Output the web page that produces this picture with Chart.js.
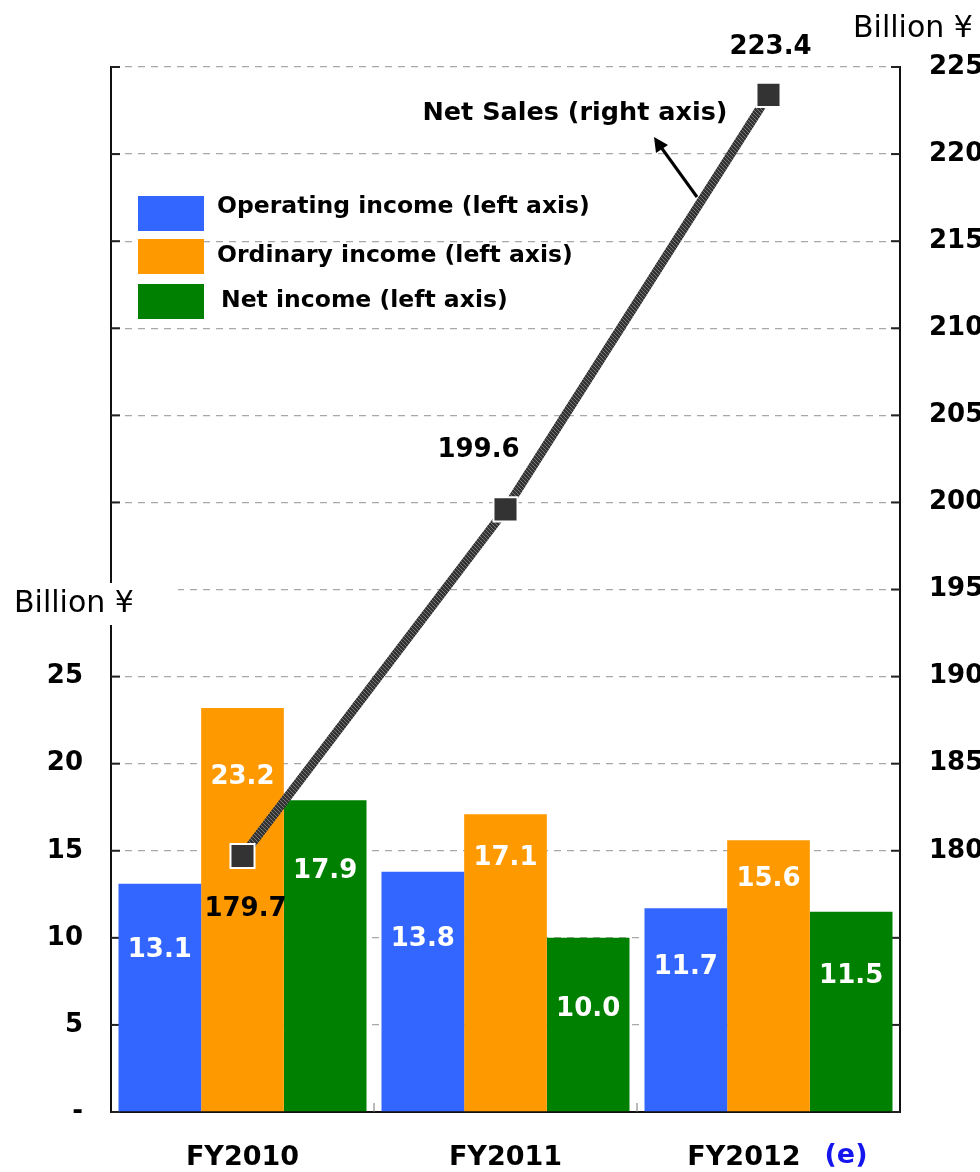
<!DOCTYPE html>
<html>
<head>
<meta charset="utf-8">
<script src="https://cdn.jsdelivr.net/npm/chart.js@4.4.1/dist/chart.umd.min.js"></script>
<style>
  html, body { margin: 0; padding: 0; background: #fff; }
  #wrap { width: 980px; height: 1172px; }
</style>
</head>
<body>
<div id="wrap"><canvas id="salesChart" width="980" height="1172"></canvas></div>
<script>
// ===== data =====
const years = ["FY2010", "FY2011", "FY2012"];
const operatingIncome = [13.1, 13.8, 11.7];
const ordinaryIncome = [23.2, 17.1, 15.6];
const netIncome = [17.9, 10.0, 11.5];
const netSales = [179.7, 199.6, 223.4];
const leftTicks = [0, 5, 10, 15, 20, 25];
const rightTicks = [180, 185, 190, 195, 200, 205, 210, 215, 220, 225];

const FONT = "'DejaVu Sans', Verdana, sans-serif";
const BLUE = "#3366ff";
const ORANGE = "#ff9900";
const GREEN = "#008000";

// pixel offsets of value labels below the bar top (layout only)
const barLabelDrop = [
    [66, 68, 59],
    [69, 44, 39],
    [71, 71, 65],
];
// offsets of net sales labels from their marker (layout only)
const salesLabelShift = [[3, 53], [-27, -59], [2, -48]];

function hatchPattern() {
    const c = document.createElement("canvas");
    c.width = 4; c.height = 4;
    const g = c.getContext("2d");
    g.fillStyle = "#333";
    g.fillRect(0, 0, 4, 4);
    g.strokeStyle = "#7a7a7a";
    g.lineWidth = 1;
    g.beginPath();
    g.moveTo(0, 0); g.lineTo(4, 4);
    g.stroke();
    return g.createPattern(c, "repeat");
}

const decor = {
    id: "decor",
    beforeDatasetsDraw(chart) {
        const { ctx, chartArea: a, scales } = chart;
        ctx.save();
        ctx.strokeStyle = "#222";
        ctx.lineWidth = 2;
        scales.y.ticks.forEach((t) => {
            const y = scales.y.getPixelForValue(t.value);
            ctx.beginPath(); ctx.moveTo(a.left, y); ctx.lineTo(a.left + 9, y); ctx.stroke();
            ctx.beginPath(); ctx.moveTo(a.right - 9, y); ctx.lineTo(a.right, y); ctx.stroke();
        });
        ctx.strokeStyle = "#777";
        ctx.lineWidth = 1;
        for (let i = 0; i < years.length - 1; i++) {
            const x = (scales.x.getPixelForValue(i) + scales.x.getPixelForValue(i + 1)) / 2;
            ctx.beginPath(); ctx.moveTo(x, a.bottom - 9); ctx.lineTo(x, a.bottom); ctx.stroke();
        }
        ctx.restore();
    },
    afterDraw(chart) {
        const { ctx, scales } = chart;
        ctx.save();

        // value labels inside bars
        ctx.font = "bold 26px " + FONT;
        ctx.fillStyle = "#fff";
        ctx.textAlign = "center";
        ctx.textBaseline = "middle";
        [0, 1, 2].forEach((d) => {
            chart.getDatasetMeta(d).data.forEach((bar, i) => {
                const v = chart.data.datasets[d].data[i];
                ctx.fillText(v.toFixed(1), bar.x, bar.y + barLabelDrop[d][i]);
            });
        });

        // net sales labels
        ctx.fillStyle = "#000";
        chart.getDatasetMeta(3).data.forEach((pt, i) => {
            ctx.fillText(netSales[i].toFixed(1), pt.x + salesLabelShift[i][0], pt.y + salesLabelShift[i][1]);
        });

        // category labels
        ctx.font = "bold 27px " + FONT;
        years.forEach((y, i) => {
            const x = scales.x.getPixelForValue(i);
            if (i === years.length - 1) {
                ctx.textAlign = "right";
                ctx.fillStyle = "#000";
                ctx.fillText(y, x + 32, 1158);
                ctx.textAlign = "left";
                ctx.fillStyle = "#1515ee";
                ctx.fillText("(e)", x + 56, 1156);
            } else {
                ctx.textAlign = "center";
                ctx.fillStyle = "#000";
                ctx.fillText(y, x, 1158);
            }
        });

        // unit captions
        ctx.fillStyle = "#fff";
        ctx.fillRect(0, 583, 178, 42);
        ctx.fillStyle = "#000";
        ctx.font = "30px " + FONT;
        ctx.textAlign = "left";
        ctx.fillText("Billion \u00a5", 14, 604);
        ctx.fillText("Billion \u00a5", 853, 29);

        // legend
        const legend = [
            [BLUE, "Operating income (left axis)", 196, 207, 217],
            [ORANGE, "Ordinary income (left axis)", 239, 256, 217],
            [GREEN, "Net income (left axis)", 284, 301, 221],
        ];
        ctx.font = "bold 23.5px " + FONT;
        legend.forEach(([c, txt, top, ty, tx]) => {
            ctx.fillStyle = c;
            ctx.fillRect(138, top, 66, 35);
            ctx.fillStyle = "#000";
            ctx.fillText(txt, tx, ty);
        });

        // net sales annotation
        ctx.font = "bold 25.5px " + FONT;
        ctx.textAlign = "center";
        ctx.fillText("Net Sales (right axis)", 575, 113);
        ctx.strokeStyle = "#000";
        ctx.lineWidth = 3;
        ctx.beginPath(); ctx.moveTo(697, 197); ctx.lineTo(658, 143); ctx.stroke();
        ctx.beginPath();
        ctx.moveTo(654, 137);
        ctx.lineTo(668, 145);
        ctx.lineTo(656, 153);
        ctx.closePath();
        ctx.fill();

        ctx.restore();
    },
};

const ctx = document.getElementById("salesChart").getContext("2d");

new Chart(ctx, {
    data: {
        labels: years,
        datasets: [
            { type: "bar", label: "Operating income (left axis)", data: operatingIncome, backgroundColor: BLUE, yAxisID: "y", order: 1 },
            { type: "bar", label: "Ordinary income (left axis)", data: ordinaryIncome, backgroundColor: ORANGE, yAxisID: "y", order: 1 },
            { type: "bar", label: "Net income (left axis)", data: netIncome, backgroundColor: GREEN, yAxisID: "y", order: 1 },
            {
                type: "line",
                label: "Net Sales (right axis)",
                data: netSales,
                yAxisID: "y2",
                order: 0,
                borderColor: hatchPattern(),
                borderWidth: 9,
                tension: 0,
                pointStyle: "rect",
                pointRadius: 17,
                pointBackgroundColor: "#333",
                pointBorderColor: "#fff",
                pointBorderWidth: 2,
            },
        ],
    },
    options: {
        responsive: false,
        animation: false,
        events: [],
        layout: { padding: { top: 67, left: 0, right: 0, bottom: 0 } },
        datasets: { bar: { categoryPercentage: 0.943, barPercentage: 1.0 } },
        plugins: { legend: { display: false }, tooltip: { enabled: false } },
        scales: {
            x: {
                grid: { display: false },
                border: { display: true, color: "#111", width: 2 },
                ticks: { display: false },
                afterFit: (s) => { s.height = 60; },
            },
            y: {
                position: "left",
                min: 0,
                max: 60,
                afterBuildTicks: (s) => {
                    const t = [];
                    for (let v = 0; v <= 60; v += 5) t.push({ value: v });
                    s.ticks = t;
                },
                ticks: {
                    padding: 28,
                    color: "#000",
                    font: { family: FONT, size: 26, weight: "bold" },
                    callback: (v) => (v === 0 ? "-" : leftTicks.includes(v) ? String(v) : ""),
                },
                grid: { color: "#a8a8a8", lineWidth: 1.3, drawTicks: false },
                border: { display: true, color: "#111", width: 2, dash: [7, 6] },
                afterFit: (s) => { s.width = 111; },
            },
            y2: {
                position: "right",
                min: 165,
                max: 225,
                afterBuildTicks: (s) => {
                    const t = [];
                    for (let v = 165; v <= 225; v += 5) t.push({ value: v });
                    s.ticks = t;
                },
                ticks: {
                    padding: 29,
                    color: "#000",
                    font: { family: FONT, size: 26, weight: "bold" },
                    callback: (v) => (rightTicks.includes(v) ? String(v) : ""),
                },
                grid: { display: false, drawTicks: false },
                border: { display: true, color: "#111", width: 2 },
                afterFit: (s) => { s.width = 80; },
            },
        },
    },
    plugins: [decor],
});
</script>
</body>
</html>
